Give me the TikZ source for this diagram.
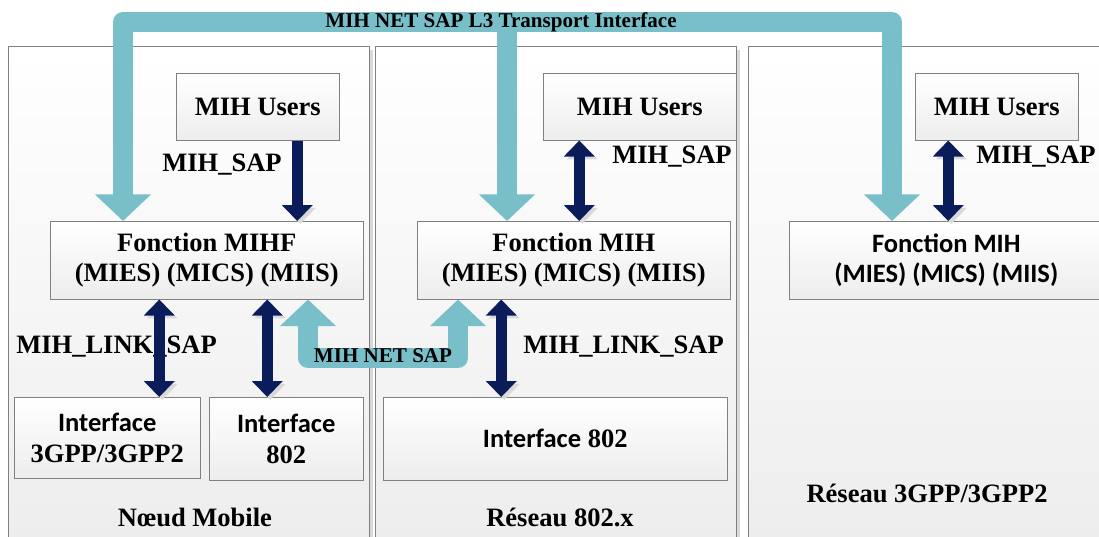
\documentclass[tikz,border=0pt]{standalone}
\usepackage{fontspec}
\setmainfont{Liberation Serif}
\newfontfamily\calibsans{Carlito}
\usepackage{tikz}
\usetikzlibrary{arrows.meta,calc,shadows}
\definecolor{navyarr}{HTML}{0A1D5A}
\definecolor{netcyan}{HTML}{79BFCA}
\definecolor{edge}{HTML}{808080}
\definecolor{pale}{HTML}{EDEDED}
\newcommand{\bigfont}{\bfseries\fontsize{19.9}{23}\selectfont}
\newcommand{\smallfont}{\bfseries\fontsize{15.8}{18}\selectfont}
\tikzset{
  wh/.style 2 args={minimum width=#1*0.75pt, minimum height=#2*0.75pt},
  panel/.style={draw=edge, top color=white, bottom color=pale, anchor=north west, inner sep=0pt,
    drop shadow={shadow xshift=2.5pt, shadow yshift=-2.5pt, fill=black!30}},
  box/.style={draw=edge, top color=white, bottom color=pale, anchor=north west, inner sep=0pt,
    align=center, font=\bigfont},
  lbl/.style={font=\bigfont, inner sep=0pt},
  sap/.style={draw=navyarr, line width=8.25pt, >={Triangle[width=22.5pt,length=12pt]},
    preaction={draw=black!15, transform canvas={xshift=2.2pt, yshift=-2.2pt}}},
  net/.style={draw=netcyan, line width=15pt, line join=round, >={Triangle[width=41pt,length=20pt]}}
}

\begin{document}
\begin{tikzpicture}[x=0.75pt, y=-0.75pt]
\useasboundingbox (0,0) rectangle (1099,536);
\clip (0,0) rectangle (1099,536);

% panels
\node[panel, wh={361}{500}] (mobile) at (8,46) {};
\node[panel, wh={361}{500}] (net802) at (375,46) {};
\node[panel, wh={370}{500}] (net3g) at (748,46) {};

% MIH users
\node[box, wh={163}{67}] (u1) at (176,73) {MIH Users};
\node[box, wh={193}{67}] (u2) at (543,73) {MIH Users};
\node[box, wh={163}{67}] (u3) at (915,73) {MIH Users};

% MIH functions
\node[box, wh={313}{78}] (f1) at (50,221) {Fonction MIHF\\(MIES) (MICS) (MIIS)};
\node[box, wh={313}{78}] (f2) at (417,221) {Fonction MIH\\(MIES) (MICS) (MIIS)};
\node[box, wh={314}{78}, font=\calibsans\bigfont] (f3) at (789,221) {Fonction MIH\\(MIES) (MICS) (MIIS)};

% interfaces
\node[box, wh={186}{81}] (i1) at (14,397) {{\calibsans Interface}\\3GPP/3GPP2};
\node[box, wh={154}{83}] (i2) at (209,397) {{\calibsans Interface}\\802};
\node[box, wh={344}{83}] (i3) at (383,397) {{\calibsans Interface} 802};

% net SAP transport
\coordinate (tl) at (123,22);
\coordinate (tm) at (507,22);
\coordinate (tr) at (892,22);
\draw[net, <->] (tl |- f1.north) -- (tl) -- (tr) -- (tr |- f3.north);
\draw[net, ->] (tm) -- (tm |- f2.north);
\node[font=\smallfont, inner sep=0pt] (l3) at (501,22) {MIH NET SAP L3 Transport Interface};

\coordinate (bl) at (308,358);
\coordinate (br) at (458,358);
\draw[net, <->] (bl |- f1.south) -- (bl) -- (br) -- (br |- f2.south);
\node[font=\smallfont, inner sep=0pt] (netsap) at (383,356) {MIH NET SAP};

% labels
\node[lbl] (sapL) at (222,165) {MIH\_SAP};
\node[lbl] (sapM) at (672,157) {MIH\_SAP};
\node[lbl, anchor=west] (sapR) at (976,157) {MIH\_SAP};
\node[lbl] (linkL) at (116.5,347) {MIH\_LINK\_SAP};
\node[lbl] (linkM) at (623.5,347) {MIH\_LINK\_SAP};
\node[lbl] (noeud) at (195,517) {Nœud Mobile};
\node[lbl] (res802) at (560,517) {Réseau 802.x};
\node[lbl] (res3g) at (927,493) {Réseau 3GPP/3GPP2};

% MIH_SAP / MIH_LINK_SAP
\coordinate (s1) at ($(u1.south)+(39.5,0)$);
\coordinate (s2) at ($(u2.south)+(-60.5,0)$);
\coordinate (s3) at ($(u3.south)+(-48.5,0)$);
\coordinate (k1) at ($(i1.north)+(52,0)$);
\coordinate (k2) at ($(i2.north)+(-19,0)$);
\coordinate (k3) at ($(i3.north)+(-54,0)$);
\draw[sap, ->] (s1) -- (s1 |- f1.north);
\draw[sap, <->] (s2) -- (s2 |- f2.north);
\draw[sap, <->] (s3) -- (s3 |- f3.north);
\draw[sap, <->] (k1 |- f1.south) -- (k1);
\draw[sap, <->] (k2 |- f1.south) -- (k2);
\draw[sap, <->] (k3 |- f2.south) -- (k3);
\end{tikzpicture}
\end{document}
